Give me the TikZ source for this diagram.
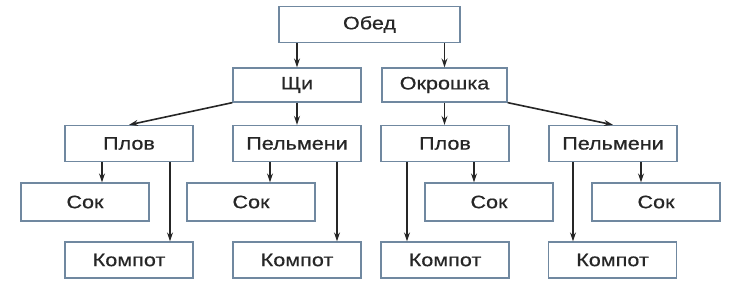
\documentclass[tikz,border=0pt]{standalone}
\usepackage{fontspec}
\setmainfont{Liberation Sans}[FakeStretch=1.2, FakeBold=0.5]
\usetikzlibrary{arrows.meta}
\definecolor{boxline}{HTML}{7088A0}
\definecolor{dishtext}{HTML}{262626}

\begin{document}
\begin{tikzpicture}[x = 1pt, y = -1pt]
	\tikzstyle {dish} = [draw = boxline, line width = 1.3pt, fill = white, minimum width = 128pt, minimum height = 36pt, inner sep = 0pt, text = dishtext, font = \fontsize{18}{18}\selectfont];
	\tikzstyle {link} = [-{Stealth[length = 9pt, width = 6pt]}, line width = 1.6pt, draw = black!85];
	\useasboundingbox (0, 0) rectangle (743, 296);
	\node[dish, minimum width = 181pt] (obed) at (369.5, 24.5) {Обед};
	\node[dish, minimum height = 34pt] (shchi) at (297, 85) {Щи};
	\node[dish, minimum width = 125pt, minimum height = 34pt] (okroshka) at (444.5, 85) {Окрошка};
	\foreach \nodename/\xpos/\dishname in {plov1/129/Плов, pelm1/297/Пельмени, plov2/445/Плов, pelm2/613/Пельмени} {
			\node[dish] (\nodename) at (\xpos, 143.5) {\dishname};
		}
	\foreach \nodename/\xpos in {sok1/85, sok2/251, sok3/489, sok4/656} {
			\node[dish, minimum height = 38pt] (\nodename) at (\xpos, 202) {Сок};
		}
	\foreach \nodename/\xpos in {komp1/129, komp2/297, komp3/445, komp4/612.5} {
			\node[dish] (\nodename) at (\xpos, 260) {Компот};
		}
	% first two levels
	\draw[link] (shchi.north |- obed.south) -- (shchi);
	\draw[link] (okroshka.north |- obed.south) -- (okroshka);
	\draw[link] (shchi.south west) -- (plov1.north);
	\draw[link] (shchi) -- (pelm1);
	\draw[link] (okroshka.south) -- (okroshka.south |- plov2.north);
	\draw[link] (okroshka.south east) -- (pelm2.north);
	% drinks
	\foreach \firstnode/\secondnode/\shift in {plov1/sok1/-27, plov1/komp1/41, pelm1/sok2/-27, pelm1/komp2/40, plov2/komp3/-38, plov2/sok3/29, pelm2/komp4/-40, pelm2/sok4/28} {
			\draw[link] ([xshift = \shift pt]\firstnode.south) -- ([xshift = \shift pt]\firstnode.south |- \secondnode.north);
		}
\end{tikzpicture}
\end{document}
